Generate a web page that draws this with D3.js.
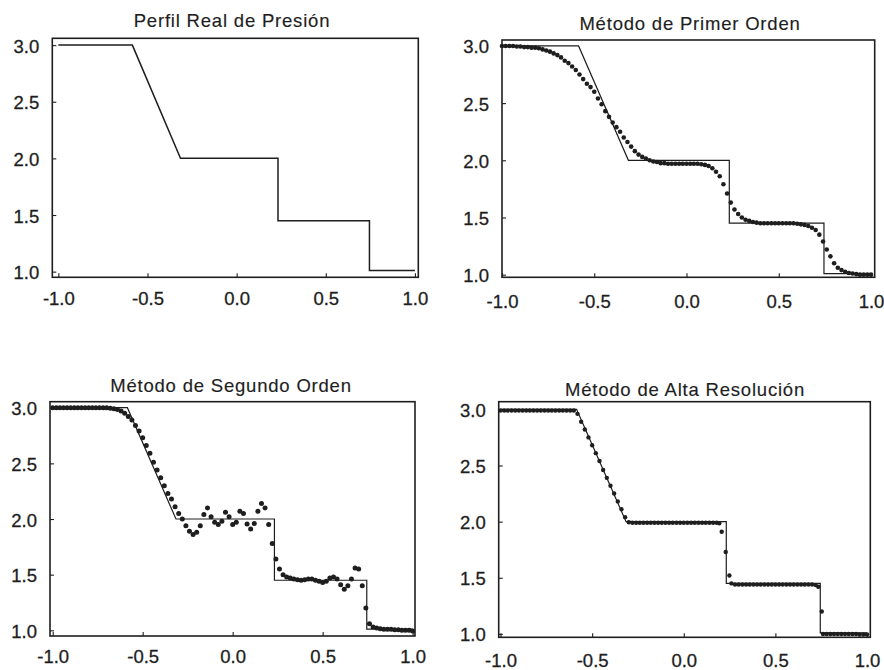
<!DOCTYPE html>
<html>
<head>
<meta charset="utf-8">
<script src="https://cdn.jsdelivr.net/npm/d3@7"></script>
<style>
  html, body { margin: 0; padding: 0; background: #fff; }
  svg { display: block; }
  text { font-family: "Liberation Sans", Arial, Helvetica, sans-serif; fill: #1e1e1e; stroke: #1e1e1e; stroke-width: 0.3px; }
</style>
</head>
<body>
<svg id="chart" width="884" height="670"></svg>
<script>
// ---------------- data ----------------
const titles = ["Perfil Real de Presión", "Método de Primer Orden", "Método de Segundo Orden", "Método de Alta Resolución"];
const xTicks = [-1.0, -0.5, 0.0, 0.5, 1.0];
const yTicks = [1.0, 1.5, 2.0, 2.5, 3.0];

// exact (real) pressure profile
const exactX = [-1.0, -0.585, -0.315, 0.232, 0.232, 0.745, 0.745, 1.0];
const exactP = [3.0, 3.0, 2.0, 2.0, 1.45, 1.45, 1.01, 1.01];

// computational mesh
const gridX = [-1.00,-0.98,-0.96,-0.94,-0.92,-0.90,-0.88,-0.86,-0.84,-0.82,
  -0.80,-0.78,-0.76,-0.74,-0.72,-0.70,-0.68,-0.66,-0.64,-0.62,
  -0.60,-0.58,-0.56,-0.54,-0.52,-0.50,-0.48,-0.46,-0.44,-0.42,
  -0.40,-0.38,-0.36,-0.34,-0.32,-0.30,-0.28,-0.26,-0.24,-0.22,
  -0.20,-0.18,-0.16,-0.14,-0.12,-0.10,-0.08,-0.06,-0.04,-0.02,
   0.00, 0.02, 0.04, 0.06, 0.08, 0.10, 0.12, 0.14, 0.16, 0.18,
   0.20, 0.22, 0.24, 0.26, 0.28, 0.30, 0.32, 0.34, 0.36, 0.38,
   0.40, 0.42, 0.44, 0.46, 0.48, 0.50, 0.52, 0.54, 0.56, 0.58,
   0.60, 0.62, 0.64, 0.66, 0.68, 0.70, 0.72, 0.74, 0.76, 0.78,
   0.80, 0.82, 0.84, 0.86, 0.88, 0.90, 0.92, 0.94, 0.96, 0.98, 1.00];

// first order method
const firstOrder = [3.00,3.00,3.00,3.00,2.995,2.995,2.99,2.99,2.985,2.985,
  2.98,2.97,2.96,2.95,2.935,2.92,2.90,2.87,2.85,2.82,
  2.79,2.75,2.71,2.67,2.64,2.60,2.54,2.49,2.43,2.38,
  2.33,2.29,2.25,2.20,2.16,2.12,2.08,2.05,2.03,2.015,
  2.00,1.99,1.985,1.975,1.975,1.97,1.97,1.97,1.97,1.97,
  1.97,1.97,1.97,1.97,1.965,1.96,1.95,1.93,1.90,1.86,
  1.79,1.71,1.63,1.57,1.53,1.50,1.48,1.47,1.46,1.455,
  1.45,1.45,1.45,1.45,1.45,1.45,1.45,1.45,1.45,1.45,
  1.445,1.44,1.435,1.425,1.41,1.39,1.35,1.29,1.22,1.16,
  1.10,1.06,1.04,1.025,1.015,1.01,1.005,1.00,1.00,1.00,1.00];

// second order method
const secondOrder = [3.00,3.00,3.00,3.00,3.00,3.00,3.00,3.00,3.00,3.00,
  3.00,3.00,3.00,3.00,3.00,3.00,2.995,2.99,2.985,2.97,
  2.95,2.92,2.89,2.84,2.79,2.73,2.66,2.59,2.51,2.44,
  2.37,2.30,2.23,2.18,2.11,2.05,2.00,1.94,1.89,1.86,
  1.88,1.94,2.04,2.10,2.02,1.97,1.95,1.98,2.06,2.02,
  1.95,1.97,2.07,2.05,1.955,1.91,1.96,2.07,2.14,2.10,
  1.95,1.78,1.64,1.55,1.50,1.48,1.47,1.46,1.455,1.45,
  1.455,1.46,1.46,1.45,1.44,1.43,1.44,1.47,1.48,1.46,
  1.41,1.37,1.40,1.46,1.56,1.55,1.40,1.20,1.06,1.03,
  1.02,1.015,1.01,1.01,1.01,1.005,1.005,1.00,1.00,1.00,0.995];

// high resolution method (null = cell shown in the shock arrays below)
const highRes = [2.99,2.99,2.99,2.99,2.99,2.99,2.99,2.99,2.99,2.99,
  2.99,2.99,2.99,2.99,2.99,2.99,2.99,2.99,2.99,2.99,
  2.99,2.96,2.89,2.82,2.75,2.68,2.61,2.54,2.46,2.39,
  2.32,2.25,2.18,2.11,2.04,1.995,1.99,1.99,1.99,1.99,
  1.99,1.99,1.99,1.99,1.99,1.99,1.99,1.99,1.99,1.99,
  1.99,1.99,1.99,1.99,1.99,1.99,1.99,1.99,1.99,1.99,
  null,null,null,1.45,1.44,1.44,1.44,1.44,1.44,1.44,
  1.44,1.44,1.44,1.44,1.44,1.44,1.44,1.44,1.44,1.44,
  1.44,1.44,1.44,1.44,1.44,1.44,1.435,null,1.00,1.00,
  1.00,1.00,1.00,1.00,1.00,1.00,1.00,1.00,0.995,0.995,0.995];
const highResShockX = [0.194, 0.207, 0.229, 0.249, 0.734, 0.753];
const highResShockP = [1.985, 1.91, 1.73, 1.52, 1.42, 1.20];

// ---------------- layout ----------------
const panels = [
  { title: titles[0], box: [52.3, 38.3, 418.3, 277.3], xd: [-1.034, 1.019], yd: [0.95, 3.06],
    titleX: 232, titleY: 27, xlabOff: 28, dots: null, r: 0 },
  { title: titles[1], box: [502, 40, 874.7, 277.3], xd: [-1.0, 1.02], yd: [0.977, 3.052],
    titleX: 690, titleY: 30, xlabOff: 31, dots: { x: gridX, p: firstOrder }, r: 2.3 },
  { title: titles[2], box: [50, 401.7, 415, 636], xd: [-1.015, 1.013], yd: [0.949, 3.054],
    titleX: 231, titleY: 392, xlabOff: 27, dots: { x: gridX, p: secondOrder }, r: 2.5 },
  { title: titles[3], box: [498.7, 401.7, 870.3, 637.3], xd: [-1.01, 1.018], yd: [0.97, 3.068],
    titleX: 685, titleY: 396, xlabOff: 30,
    dots: { x: gridX.concat(highResShockX), p: highRes.concat(highResShockP) }, r: 2.2 }
];

const ink = "#1e1e1e";
const svg = d3.select("#chart");

panels.forEach(pn => {
  const [x0, y0, x1, y1] = pn.box;
  const x = d3.scaleLinear().domain(pn.xd).range([x0, x1]);
  const y = d3.scaleLinear().domain(pn.yd).range([y1, y0]);
  const g = svg.append("g");

  // title
  g.append("text")
    .attr("x", pn.titleX).attr("y", pn.titleY)
    .attr("text-anchor", "middle")
    .style("font-size", "18.5px")
    .style("letter-spacing", "0.8px")
    .style("stroke-width", "0.15px")
    .text(pn.title);

  // axes: inward ticks, labels
  const xAxis = d3.axisBottom(x).tickValues(xTicks).tickSize(-4).tickPadding(0)
    .tickFormat(d3.format(".1f"));
  const gx = g.append("g").attr("transform", `translate(0,${y1})`).call(xAxis);
  gx.select(".domain").remove();
  gx.selectAll("line").attr("stroke", ink).attr("stroke-width", 1.1);
  gx.selectAll("text")
    .attr("y", pn.xlabOff).attr("dy", null)
    .style("font-size", "18.5px").attr("fill", ink)
    .text(d => d3.format(".1f")(d).replace("−", "-"));

  const yAxis = d3.axisLeft(y).tickValues(yTicks).tickSize(-4).tickPadding(0)
    .tickFormat(d3.format(".1f"));
  const gy = g.append("g").attr("transform", `translate(${x0},0)`).call(yAxis);
  gy.select(".domain").remove();
  gy.selectAll("line").attr("stroke", ink).attr("stroke-width", 1.1);
  gy.selectAll("text")
    .attr("x", -13).attr("dy", "0.38em")
    .style("font-size", "18.5px").attr("fill", ink);

  // exact profile
  const line = d3.line().x((d, i) => x(exactX[i])).y(d => y(d));
  g.append("path")
    .datum(exactP)
    .attr("d", line)
    .attr("fill", "none")
    .attr("stroke", ink)
    .attr("stroke-width", pn.dots ? 1.2 : 1.5);

  // numerical solution dots
  if (pn.dots) {
    const pts = pn.dots.p.map((v, i) => ({ x: pn.dots.x[i], p: v })).filter(d => d.p !== null);
    g.append("g").selectAll("circle")
      .data(pts).join("circle")
      .attr("cx", d => x(d.x))
      .attr("cy", d => y(d.p))
      .attr("r", pn.r)
      .attr("fill", ink);
  }

  // frame
  g.append("rect")
    .attr("x", x0).attr("y", y0)
    .attr("width", x1 - x0).attr("height", y1 - y0)
    .attr("fill", "none")
    .attr("stroke", ink)
    .attr("stroke-width", 1.6);
});
</script>
</body>
</html>
